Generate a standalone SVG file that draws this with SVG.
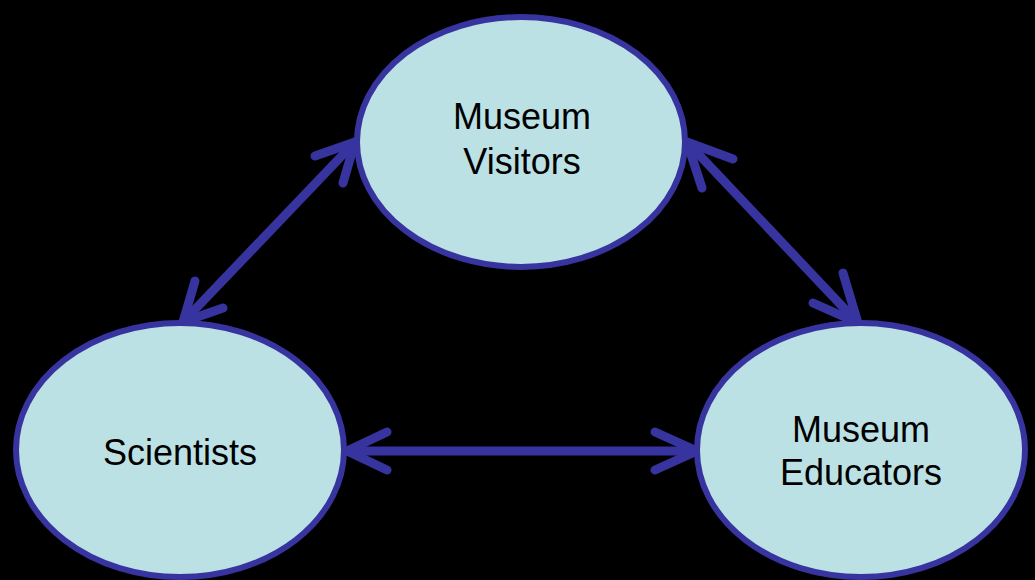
<svg xmlns="http://www.w3.org/2000/svg" width="1035" height="580" viewBox="0 0 1035 580">
<style>
.node{fill:#bce1e4;stroke:#38349f;stroke-width:6}
.lbl{font-family:"Liberation Sans",Arial,sans-serif;font-size:36px;fill:#000;text-anchor:middle}
.conn{fill:none;stroke:#38349f;stroke-width:9;stroke-linecap:round;stroke-linejoin:round}
</style>
<rect width="1035" height="580" fill="#000"/>
<g id="connectors">
<path class="conn" d="M355,142 L183,322"/>
<path class="conn" d="M315,156 L355,142 L343,183"/>
<path class="conn" d="M183,322 L195,281 M183,322 L223,308"/>
<path class="conn" d="M687,142 L858,323"/>
<path class="conn" d="M733,159 L687,142 L702,188"/>
<path class="conn" d="M843,273 L858,323 L813,303"/>
<path class="conn" d="M347,451 L697,451"/>
<path class="conn" d="M387,432 L347,451 L387,470"/>
<path class="conn" d="M655,432 L697,451 L655,470"/>
</g>
<g id="visitors">
<ellipse class="node" cx="521" cy="142" rx="164" ry="125"/>
<text class="lbl" x="522" y="129">Museum</text>
<text class="lbl" x="522" y="174">Visitors</text>
</g>
<g id="scientists">
<ellipse class="node" cx="180" cy="450" rx="164" ry="127"/>
<text class="lbl" x="180" y="465">Scientists</text>
</g>
<g id="educators">
<ellipse class="node" cx="861" cy="450" rx="164" ry="127"/>
<text class="lbl" x="861" y="442">Museum</text>
<text class="lbl" x="861" y="485">Educators</text>
</g>
</svg>
